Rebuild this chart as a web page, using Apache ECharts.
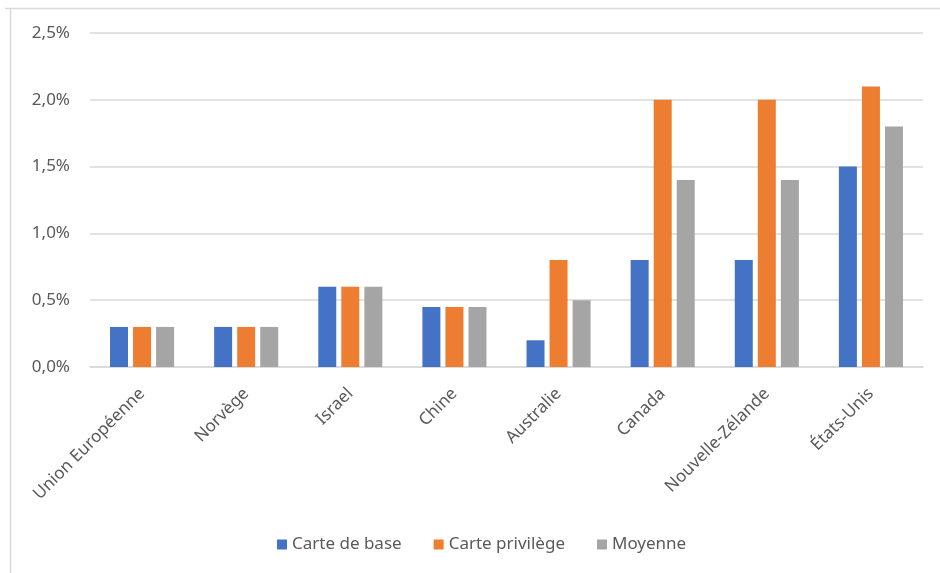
<!DOCTYPE html>
<html>
<head>
<meta charset="utf-8">
<script src="https://cdn.jsdelivr.net/npm/echarts@6/dist/echarts.min.js"></script>
<style>
  html, body { margin: 0; padding: 0; background: #fff; }
  #chart { width: 940px; height: 573px; }
</style>
</head>
<body>
<div id="chart"></div>
<script>
// pays
const categories = ['Union Européenne', 'Norvège', 'Israel', 'Chine', 'Australie', 'Canada', 'Nouvelle-Zélande', 'États-Unis']
// taux en %
const carteBase = [0.3, 0.3, 0.6, 0.45, 0.2, 0.8, 0.8, 1.5]
const cartePrivilege = [0.3, 0.3, 0.6, 0.45, 0.8, 2.0, 2.0, 2.1]
const moyenne = [0.3, 0.3, 0.6, 0.45, 0.5, 1.4, 1.4, 1.8]
const seriesNames = ['Carte de base', 'Carte privilège', 'Moyenne']

const textColor = '#595959'
const lineColor = '#d9d9d9'
const font = 'Noto Sans'

const chart = echarts.init(document.getElementById('chart'), null, { renderer: 'canvas' })

const barStyle = {
  type: 'bar',
  barWidth: 18,
  barGap: '28%',
  animation: false
}

chart.setOption({
  color: ['#4472C4', '#ED7D31', '#A5A5A5'],
  textStyle: { fontFamily: font },
  graphic: [
    { type: 'line', shape: { x1: 5, y1: 8.5, x2: 940, y2: 8.5 }, style: { stroke: lineColor, lineWidth: 1.5 } },
    { type: 'line', shape: { x1: 10.5, y1: 8, x2: 10.5, y2: 573 }, style: { stroke: lineColor, lineWidth: 1.5 } }
  ],
  grid: {
    left: 90,
    right: 17,
    top: 33,
    bottom: 206
  },
  legend: {
    data: seriesNames,
    bottom: 15,
    left: 272,
    icon: 'rect',
    itemWidth: 10,
    itemHeight: 10,
    itemGap: 32,
    textStyle: { color: textColor, fontSize: 17, fontFamily: font }
  },
  xAxis: {
    type: 'category',
    data: categories,
    axisLine: { lineStyle: { color: lineColor, width: 1.5 } },
    axisTick: { show: false },
    axisLabel: {
      rotate: 45,
      interval: 0,
      margin: 24,
      color: textColor,
      fontSize: 17,
      fontFamily: font
    }
  },
  yAxis: {
    type: 'value',
    min: 0,
    max: 2.5,
    interval: 0.5,
    axisLine: { show: false },
    axisTick: { show: false },
    splitLine: { lineStyle: { color: lineColor, width: 1.5 } },
    axisLabel: {
      margin: 20,
      color: textColor,
      fontSize: 17,
      fontFamily: font,
      formatter: v => v.toFixed(1).replace('.', ',') + '%'
    }
  },
  series: [
    Object.assign({ name: seriesNames[0], data: carteBase }, barStyle),
    Object.assign({ name: seriesNames[1], data: cartePrivilege }, barStyle),
    Object.assign({ name: seriesNames[2], data: moyenne }, barStyle)
  ]
})
</script>
</body>
</html>
